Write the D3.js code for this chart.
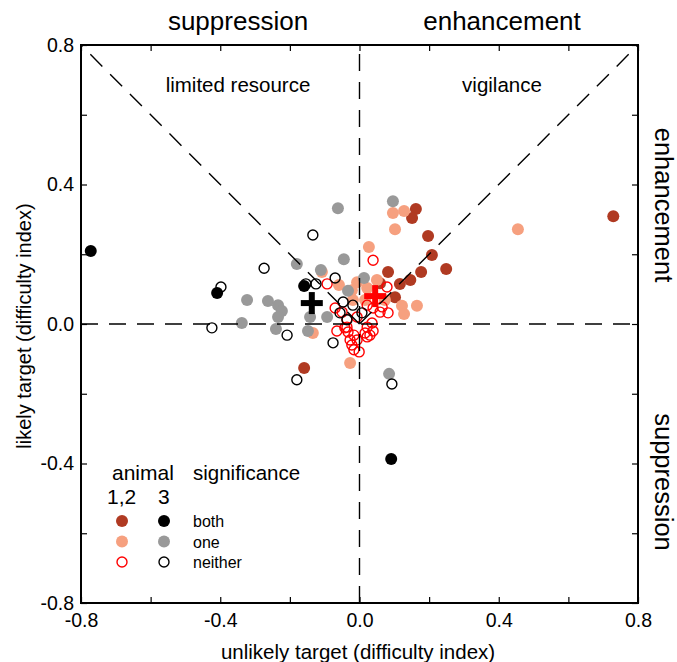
<!DOCTYPE html>
<html>
<head>
<meta charset="utf-8">
<script src="https://cdn.jsdelivr.net/npm/d3@7"></script>
<style>
  body { margin: 0; background: #fff; }
  svg { font-family: "Liberation Sans", Arial, sans-serif; }
</style>
</head>
<body>
<svg id="chart" width="677" height="662"></svg>
<script>
// animal 1,2 - significant in both
var both12 = [
  [0.729, 0.309], [0.162, 0.330], [0.151, 0.304], [0.197, 0.252], [0.208, 0.198],
  [0.249, 0.158], [0.177, 0.149], [0.082, 0.149], [0.116, 0.115], [0.146, 0.126],
  [0.059, 0.117], [0.102, 0.077], [-0.159, -0.126]
];
// animal 1,2 - significant in one
var one12 = [
  [0.096, 0.318], [0.128, 0.324], [0.102, 0.272], [0.455, 0.272], [0.027, 0.221],
  [0.122, 0.052], [0.165, 0.052], [0.128, 0.029], [-0.007, 0.120], [0.050, 0.126],
  [0.022, 0.103], [-0.108, 0.149], [-0.059, 0.112], [-0.134, -0.026], [-0.027, -0.112],
  [-0.022, 0.097], [0.073, 0.069], [0.016, 0.069], [-0.019, 0.069]
];
// animal 1,2 - significant in neither
var neither12 = [
  [0.039, 0.183], [-0.093, 0.115], [0.079, 0.106], [-0.070, 0.046], [-0.050, 0.034],
  [-0.036, 0.014], [-0.007, 0.020], [-0.036, -0.009], [-0.065, -0.020], [-0.033, -0.023],
  [-0.016, -0.032], [0.022, -0.009], [0.036, 0.003], [0.016, -0.026], [0.030, -0.032],
  [0.039, -0.020], [-0.016, -0.074], [-0.001, -0.080], [0.059, 0.034], [0.082, 0.032],
  [0.065, 0.049], [0.039, 0.046], [0.022, 0.054], [-0.042, -0.011], [-0.027, -0.046],
  [-0.007, -0.046], [0.022, -0.037], [-0.022, -0.060]
];
// animal 3
var both3 = [[-0.772, 0.209], [-0.409, 0.089], [-0.159, 0.109], [0.091, -0.387]];
var one3 = [
  [0.096, 0.352], [-0.062, 0.332], [-0.045, 0.186], [-0.180, 0.172], [-0.111, 0.155],
  [0.013, 0.132], [-0.033, 0.095], [-0.323, 0.069], [-0.263, 0.066], [-0.234, 0.054],
  [-0.223, 0.037], [-0.234, 0.020], [-0.338, 0.003], [-0.240, -0.014], [-0.142, 0.020],
  [-0.093, 0.020], [-0.148, -0.020], [0.085, -0.143]
];
var neither3 = [
  [-0.134, 0.255], [-0.274, 0.160], [-0.398, 0.106], [-0.154, 0.115], [-0.125, 0.115],
  [-0.070, 0.132], [-0.424, -0.011], [-0.208, -0.032], [-0.076, -0.054], [-0.180, -0.160],
  [0.093, -0.172], [-0.047, 0.063], [-0.019, 0.054], [-0.056, 0.032], [0.007, 0.032],
  [-0.036, 0.012]
];
// population means
var means = [
  { x: -0.137, y: 0.060, color: "#000" },
  { x: 0.045, y: 0.080, color: "#ff0000" }
];
var tickValues = [-0.8, -0.6, -0.4, -0.2, 0, 0.2, 0.4, 0.6, 0.8];
var labelValues = [-0.8, -0.4, 0, 0.4, 0.8];

var dark = "#b03a22", salmon = "#f6a07f", grey = "#999999", red = "#ff0000";

var svg = d3.select("#chart");
var pLeft = 81, pRight = 638, pTop = 45, pBottom = 603;

var x = d3.scaleLinear().domain([-0.8, 0.8]).range([pLeft, pRight]);
var y = d3.scaleLinear().domain([-0.8, 0.8]).range([pBottom, pTop]);

// points
function dots(data, fill, stroke) {
  svg.append("g").selectAll("circle")
    .data(data)
    .enter().append("circle")
    .attr("cx", function (d) { return x(d[0]); })
    .attr("cy", function (d) { return y(d[1]); })
    .attr("r", fill === "none" ? 5 : 6)
    .attr("fill", fill)
    .attr("stroke", stroke)
    .attr("stroke-width", 1.4);
}
dots(both12, dark, "none");
dots(one12, salmon, "none");
dots(both3, "#000", "none");
dots(one3, grey, "none");
dots(neither12, "none", red);
dots(neither3, "none", "#000");

// means as thick crosses
var crosses = svg.append("g").selectAll("g")
  .data(means)
  .enter().append("g")
  .attr("transform", function (d) { return "translate(" + x(d.x) + "," + y(d.y) + ")"; });
crosses.append("line").attr("x1", -11).attr("x2", 11)
  .attr("stroke", function (d) { return d.color; }).attr("stroke-width", 6);
crosses.append("line").attr("y1", -11).attr("y2", 11)
  .attr("stroke", function (d) { return d.color; }).attr("stroke-width", 6);

// dashed guide lines
var guides = [
  [[-0.8, 0], [0.8, 0]],
  [[0, -0.8], [0, 0.8]],
  [[0, 0], [0.8, 0.8]],
  [[0, 0], [-0.8, 0.8]]
];
svg.append("g").selectAll("line")
  .data(guides)
  .enter().append("line")
  .attr("x1", function (d) { return x(d[0][0]); })
  .attr("y1", function (d) { return y(d[0][1]); })
  .attr("x2", function (d) { return x(d[1][0]); })
  .attr("y2", function (d) { return y(d[1][1]); })
  .attr("stroke", "#000")
  .attr("stroke-width", 1.4)
  .attr("stroke-dasharray", "17,11");

// axes with inward ticks
function fmt(d) {
  return labelValues.indexOf(d) >= 0 ? d3.format(".1f")(d).replace("\u2212", "-") : "";
}
var axes = [
  { a: d3.axisBottom(x).tickFormat(fmt), t: "translate(0," + pBottom + ")", pad: 10 },
  { a: d3.axisTop(x).tickFormat(""), t: "translate(0," + pTop + ")", pad: 10 },
  { a: d3.axisLeft(y).tickFormat(fmt), t: "translate(" + pLeft + ",0)", pad: 7 },
  { a: d3.axisRight(y).tickFormat(""), t: "translate(" + pRight + ",0)", pad: 7 }
];
axes.forEach(function (o) {
  var g = svg.append("g").attr("transform", o.t)
    .call(o.a.tickValues(tickValues).tickSizeInner(-6).tickSizeOuter(0).tickPadding(o.pad));
  g.select(".domain").remove();
  g.selectAll(".tick line").attr("stroke-width", 1.2);
  g.selectAll("text").attr("font-size", 19.5).attr("fill", "#000")
    .attr("font-family", "Liberation Sans, Arial, sans-serif");
});
svg.append("rect")
  .attr("x", pLeft).attr("y", pTop)
  .attr("width", pRight - pLeft).attr("height", pBottom - pTop)
  .attr("fill", "none").attr("stroke", "#000").attr("stroke-width", 2);

// titles
function label(tx, ty, txt, size, rot) {
  svg.append("text")
    .attr("transform", "translate(" + tx + "," + ty + ")" + (rot ? "rotate(" + rot + ")" : ""))
    .attr("text-anchor", "middle")
    .attr("font-size", size)
    .text(txt);
}
label(238, 30, "suppression", 26);
label(502, 30, "enhancement", 26);
label(238, 92, "limited resource", 20.5);
label(502, 92, "vigilance", 20.5);
label(655, 205, "enhancement", 25.5, 90);
label(655, 482, "suppression", 25.5, 90);
label(358, 659, "unlikely target (difficulty index)", 20.5);
label(31, 326, "likely target (difficulty index)", 20, -90);

// legend
var legendRows = ["both", "one", "neither"];
var col12 = [dark, salmon, "none"], col3 = ["#000", grey, "none"];
var lg = svg.append("g");
lg.append("text").attr("x", 112).attr("y", 480).attr("font-size", 21).text("animal");
lg.append("text").attr("x", 193).attr("y", 480).attr("font-size", 20.5).text("significance");
lg.append("text").attr("x", 107).attr("y", 504).attr("font-size", 21).text("1,2");
lg.append("text").attr("x", 158).attr("y", 504).attr("font-size", 21).text("3");
legendRows.forEach(function (r, i) {
  var yy = 521 + i * 20.5;
  lg.append("circle").attr("cx", 122).attr("cy", yy).attr("r", i === 2 ? 5 : 6)
    .attr("fill", col12[i]).attr("stroke", i === 2 ? red : "none").attr("stroke-width", 1.4);
  lg.append("circle").attr("cx", 164).attr("cy", yy).attr("r", i === 2 ? 5 : 6)
    .attr("fill", col3[i]).attr("stroke", i === 2 ? "#000" : "none").attr("stroke-width", 1.4);
  lg.append("text").attr("x", 193).attr("y", yy + 6).attr("font-size", 16).text(r);
});
</script>
</body>
</html>
